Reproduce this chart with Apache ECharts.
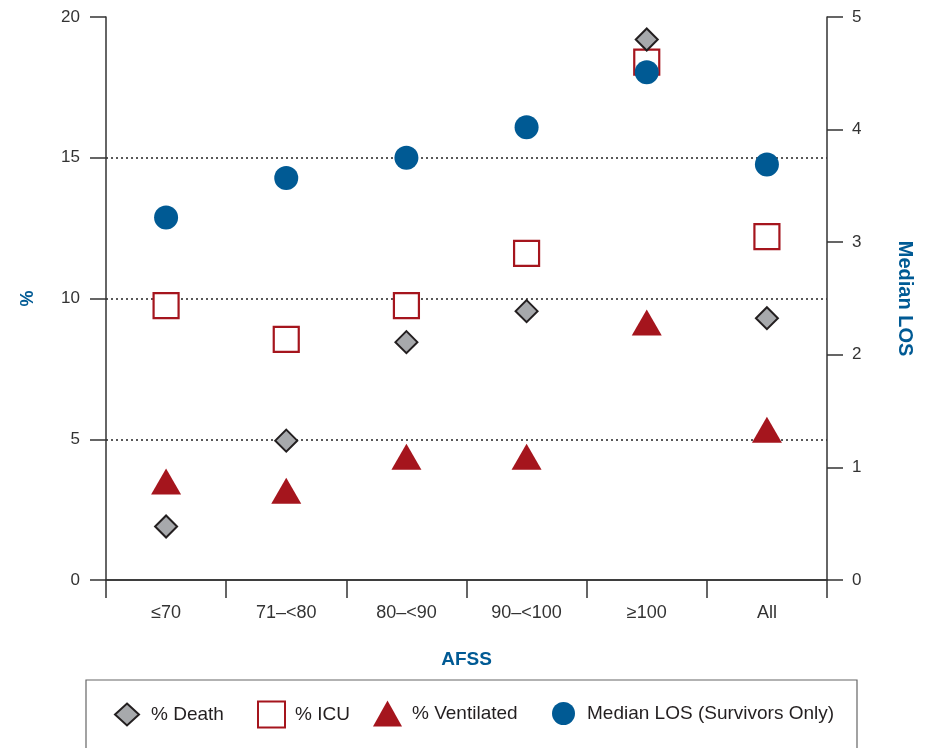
<!DOCTYPE html>
<html><head><meta charset="utf-8">
<script src="https://cdn.jsdelivr.net/npm/echarts@6/dist/echarts.min.js"></script>
<style>html,body{margin:0;padding:0;background:#fff}#c{width:927px;height:748px}</style>
</head><body><div id="c"></div>
<script>
const categories = ['≤70', '71–<80', '80–<90', '90–<100', '≥100', 'All'];
const pctDeath = [1.9, 4.95, 8.45, 9.55, 19.2, 9.3];
const pctICU = [9.75, 8.55, 9.75, 11.6, 18.4, 12.2];
const pctVentilated = [3.5, 3.17, 4.38, 4.38, 9.15, 5.34];
const medianLOS = [3.22, 3.57, 3.75, 4.02, 4.51, 3.69];
const leftTicks = [0, 5, 10, 15, 20];
const rightTicks = [0, 1, 2, 3, 4, 5];
const seriesNames = ['% Death', '% ICU', '% Ventilated', 'Median LOS (Survivors Only)'];

const BLUE = '#005a94', RED = '#a5151d', AX = '#333';
const FONT = 'Liberation Sans, Arial, sans-serif';
const NARROW = 'Liberation Sans Narrow, Arial Narrow, Liberation Sans, Arial, sans-serif';
const chart = echarts.init(document.getElementById('c'), null, {renderer: 'canvas'});
const tickFont = {fontFamily: FONT, fontSize: 17, color: '#333'};

// legend layout: [left, iconW, iconH, textPad]
const legendLayout = [[114, 24, 22, 7], [257, 27, 26, 5], [373, 29, 26, 5], [552, 23, 23, 7]];
const LEG_CY = 713.5;
const legends = seriesNames.map((n, i) => {
  const [l, w, h, p] = legendLayout[i];
  return {
    data: [n], left: l, top: LEG_CY - h / 2, padding: 0,
    itemWidth: w, itemHeight: h,
    textStyle: {fontFamily: FONT, fontSize: 19, color: '#231f20', padding: [0, 0, 0, p], lineHeight: 20}
  };
});

chart.setOption({
  animation: false,
  grid: {left: 106, right: 100, top: 17, bottom: 168, containLabel: false},
  xAxis: [{
    type: 'category', data: categories, position: 'bottom',
    name: 'AFSS', nameLocation: 'middle', nameGap: 70,
    nameTextStyle: {color: BLUE, fontWeight: 'bold', fontSize: 19, fontFamily: NARROW},
    axisLine: {lineStyle: {color: AX, width: 1.5}},
    axisTick: {show: true, length: 18, lineStyle: {color: AX, width: 1.5}},
    axisLabel: {margin: 24, fontFamily: NARROW, fontSize: 18, color: '#333'},
    splitLine: {show: false}
  }, {
    type: 'category', data: categories, position: 'top',
    axisLine: {show: true, lineStyle: {color: AX, width: 1.5}},
    axisTick: {show: false}, axisLabel: {show: false}, splitLine: {show: false}
  }],
  yAxis: [{
    type: 'value', min: 0, max: 20, interval: 5, position: 'left',
    name: '%', nameLocation: 'middle', nameGap: 69, nameRotate: 90,
    nameTextStyle: {color: BLUE, fontWeight: 'bold', fontSize: 18, fontFamily: FONT},
    axisLine: {show: true, lineStyle: {color: AX, width: 1.5}},
    axisTick: {show: true, length: 16, lineStyle: {color: AX, width: 1.5}},
    axisLabel: Object.assign({margin: 26, formatter: v => leftTicks.includes(v) ? String(v) : ''}, tickFont),
    splitLine: {show: true, showMinLine: false, showMaxLine: false, lineStyle: {color: '#222', type: [2, 3], width: 1.5}}
  }, {
    type: 'value', min: 0, max: 5, interval: 1, position: 'right',
    name: 'Median LOS', nameLocation: 'middle', nameGap: 68, nameRotate: -90,
    nameTextStyle: {color: BLUE, fontWeight: 'bold', fontSize: 20, fontFamily: NARROW},
    axisLine: {show: true, lineStyle: {color: AX, width: 1.5}},
    axisTick: {show: true, length: 16, lineStyle: {color: AX, width: 1.5}},
    axisLabel: Object.assign({margin: 25, formatter: v => rightTicks.includes(v) ? String(v) : ''}, tickFont),
    splitLine: {show: false}
  }],
  graphic: [{
    type: 'rect', shape: {x: 86, y: 680, width: 771, height: 80},
    style: {fill: 'none', stroke: '#666', lineWidth: 1.2}, silent: true
  }],
  legend: legends,
  series: [{
    name: '% ICU', type: 'scatter', data: pctICU, xAxisIndex: 0, yAxisIndex: 0,
    symbol: 'rect', symbolSize: 25,
    itemStyle: {color: '#fff', borderColor: RED, borderWidth: 2.2, opacity: 1}, z: 2
  }, {
    name: '% Ventilated', type: 'scatter', data: pctVentilated, xAxisIndex: 0, yAxisIndex: 0,
    symbol: 'triangle', symbolSize: [30, 26],
    itemStyle: {color: RED, opacity: 1}, z: 3
  }, {
    name: '% Death', type: 'scatter', data: pctDeath, xAxisIndex: 0, yAxisIndex: 0,
    symbol: 'diamond', symbolSize: [22, 22],
    itemStyle: {color: '#a7a9ac', borderColor: '#231f20', borderWidth: 2, opacity: 1}, z: 4
  }, {
    name: 'Median LOS (Survivors Only)', type: 'scatter', data: medianLOS, xAxisIndex: 0, yAxisIndex: 1,
    symbol: 'circle', symbolSize: 24,
    itemStyle: {color: BLUE, opacity: 1}, z: 5
  }]
});
</script></body></html>
